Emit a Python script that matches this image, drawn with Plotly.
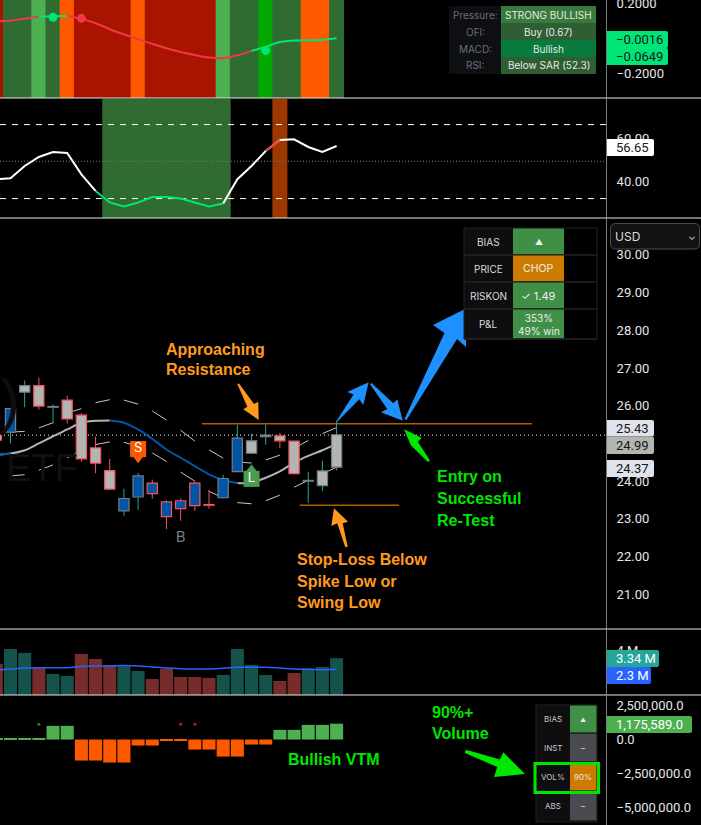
import plotly.graph_objects as go

W = 701
H = 825
PLOT_R = 606
X_LEFT = -0.74
X_RIGHT = 42.0

# bar index, -1 is the candle cut off by the left edge
bars = list(range(-1, 24))

# MACD pane
macd_line = [0.095, 0.099, 0.110, 0.122, 0.124, 0.126, 0.109, 0.084, 0.050, 0.021, -0.008, -0.034, -0.059,
             -0.080, -0.097, -0.112, -0.116, -0.099, -0.074, -0.050, -0.023, -0.015, -0.013, -0.011, -0.002]
macd_state = list("rrrrggrrrrrrrrrrrrrgggggg")
macd_dot_bars = [3, 5, 18]
macd_dot_vals = [0.118, 0.112, -0.072]
macd_dot_cols = ["#00e676", "#f23645", "#00e676"]
macd_bg = ["r", "d", "d", "l", "d", "o", "r", "r", "r", "r", "o", "r", "r", "r", "r", "r",
           "l", "d", "d", "b", "d", "d", "o", "o", "d"]
macd_bg_cols = {"r": "#a81400", "d": "#306b32", "l": "#4caf50", "o": "#ff5900", "b": "#00a800"}

# RSI pane
rsi_line = [41.07, 41.54, 47.3, 51.5, 53.85, 53.38, 43.4, 35.6, 30.2, 28.3, 30.2, 32.7, 32.8, 32.0, 30.2, 28.3,
            29.7, 41.07, 47.3, 54.3, 59.45, 59.77, 56.2, 53.85, 56.65]
rsi_state = list("wwwwwwwwgggggggggwwwrwwww")
rsi_green_bars = [7, 8, 9, 10, 11, 12, 13, 14, 15]
rsi_red_bars = [19]
rsi_upper = 66.7
rsi_mid = 49.5
rsi_lower = 32.0

# price pane
c_high = [25.24, 25.94, 26.67, 26.74, 26.03, 26.27, 25.81, 25.18, 24.59, 23.80, 24.22, 24.04, 23.49,
          23.54, 24.00, 23.77, 24.17, 25.50, 25.26, 25.50, 25.28, 25.06, 24.25, 24.54, 25.59]
c_top = [25.21, 25.92, 26.53, 26.53, 25.98, 26.15, 25.75, 24.88, 24.28, 23.54, 24.14, 23.95, 23.45,
         23.48, 23.95, 23.38, 24.07, 25.14, 25.07, 25.22, 25.20, 25.06, 24.02, 24.27, 25.23]
c_bottom = [25.09, 25.30, 26.36, 25.99, 25.96, 25.65, 24.59, 24.48, 23.79, 23.21, 23.58, 23.67, 23.06,
            23.27, 23.35, 23.36, 23.56, 24.25, 24.74, 25.18, 25.07, 24.20, 24.00, 23.88, 24.37]
c_low = [25.06, 25.00, 25.96, 25.90, 25.53, 25.53, 24.51, 24.21, 23.77, 23.08, 23.24, 23.53, 22.73,
         22.95, 23.21, 23.27, 23.54, 24.25, 24.74, 24.96, 24.88, 24.20, 23.42, 23.74, 24.29]
c_fill = list("gbgggggggbbbbbbbbbggggggg")
c_edge = list("rggrgrrrrggrrrrrggggrrggg")
fill_cols = {"g": "#b2b5b2", "b": "#0055a5"}
edge_cols = {"r": "#f7525f", "g": "#787b86"}
wick_cols = {"r": "#f7525f", "g": "#22ab94"}

ma_line = [24.70, 24.73, 24.82, 25.00, 25.19, 25.37, 25.55, 25.60, 25.61, 25.55, 25.37, 25.12, 24.84,
           24.62, 24.40, 24.18, 24.03, 23.95, 23.96, 24.09, 24.26, 24.49, 24.67, 24.82, 24.99]
ma_state = list("wbwwwwwwwbbbbbbbbbwwwwwww")
band_upper = [25.30, 25.32, 25.41, 25.55, 25.81, 25.92, 26.08, 26.16, 26.15, 26.04, 25.86, 25.62,
              25.35, 25.06, 24.83, 24.61, 24.51, 24.48, 24.56, 24.69, 24.87, 25.08, 25.26, 25.42]
band_lower = [24.14, 24.17, 24.29, 24.43, 24.62, 24.80, 24.97, 25.04, 25.03, 24.92, 24.75, 24.52,
              24.24, 24.00, 23.73, 23.56, 23.43, 23.40, 23.48, 23.63, 23.84, 24.02, 24.20, 24.37]
last_close_dotted = 25.22
resistance_bars = [13.5, 36.78]
resistance_price = 25.52
stop_bars = [20.4, 27.4]
stop_price = 23.36
tag_bars = [9, 17]
tag_prices = [24.85, 24.06]
tag_tip_prices = [24.62, 24.30]
tag_tip_symbols = ["triangle-down", "triangle-up"]
tag_texts = ["S", "L"]
tag_cols = ["#ff5900", "#4a9c4e"]
buy_bar = 12
buy_price = 22.49

# volume pane
volume = [2.82, 4.18, 3.82, 2.48, 1.91, 1.73, 3.73, 3.27, 2.73, 2.61, 2.18, 1.45, 2.36, 1.64, 1.64, 1.55,
          1.82, 4.18, 2.73, 1.82, 1.27, 2.00, 2.42, 2.55, 3.34]
volume_state = list("rttrttrrrttrrrrrttttrrttt")
volume_ma = [2.27, 2.36, 2.45, 2.48, 2.48, 2.48, 2.58, 2.64, 2.64, 2.67, 2.64, 2.55, 2.45, 2.39, 2.36, 2.36,
             2.42, 2.52, 2.52, 2.52, 2.45, 2.36, 2.33, 2.30, 2.33]

# VTM pane
vtm = [50000, 50000, 50000, 50000, 1010000, 1010000, -1553000, -1553000, -1700000, -1700000, -444000, -444000,
       -50000, -50000, -740000, -740000, -1257000, -1257000, -370000, -370000, 715000, 715000, 1085000, 1085000,
       1175589]
vtm_dot_bars = [2, 12, 13]
vtm_dot_vals = [1134000, 1134000, 1134000]
vtm_dot_cols = ["#2e7d32", "#b71c1c", "#b71c1c"]


def px(x):
    return x / W


def py(y):
    return 1 - y / H


def domain(top, bottom):
    return [py(bottom), py(top)]


def segment(values, state, key):
    # state[i] is the colour of the piece that ends on bar i
    out = []
    for i, v in enumerate(values):
        here = state[i] == key
        nxt = i + 1 < len(values) and state[i + 1] == key
        out.append(v if here or nxt else None)
    return out


def poly(points, color):
    path = "M " + " L ".join(f"{px(x):.5f},{py(y):.5f}" for x, y in points) + " Z"
    return dict(type="path", xref="paper", yref="paper", path=path, fillcolor=color, line=dict(width=0))


def rect(x0, y0, x1, y1, fill="rgba(0,0,0,0)", line=None, width=0):
    return dict(type="rect", xref="paper", yref="paper", x0=px(x0), x1=px(x1), y0=py(y0), y1=py(y1),
                fillcolor=fill, line=dict(color=line, width=width))


def round_rect(x0, y0, x1, y1, r, fill, line=None, width=0, left=True):
    # rounded box, the value tags keep a square left side
    rl = r if left else 0
    pts = [f"M {px(x0 + rl):.5f},{py(y0):.5f}", f"L {px(x1 - r):.5f},{py(y0):.5f}",
           f"Q {px(x1):.5f},{py(y0):.5f} {px(x1):.5f},{py(y0 + r):.5f}", f"L {px(x1):.5f},{py(y1 - r):.5f}",
           f"Q {px(x1):.5f},{py(y1):.5f} {px(x1 - r):.5f},{py(y1):.5f}", f"L {px(x0 + rl):.5f},{py(y1):.5f}",
           f"Q {px(x0):.5f},{py(y1):.5f} {px(x0):.5f},{py(y1 - rl):.5f}", f"L {px(x0):.5f},{py(y0 + rl):.5f}",
           f"Q {px(x0):.5f},{py(y0):.5f} {px(x0 + rl):.5f},{py(y0):.5f} Z"]
    return dict(type="path", xref="paper", yref="paper", path=" ".join(pts), fillcolor=fill,
                line=dict(color=line, width=width))


def label(x, y, text, color, size, anchor="center", bold=False, font="Inter"):
    # annotations keep a little padding on the left
    if anchor == "left":
        x -= 2
    return dict(xref="paper", yref="paper", x=px(x), y=py(y), text=f"<b>{text}</b>" if bold else text, showarrow=False,
                xanchor=anchor, yanchor="middle", align=anchor, font=dict(color=color, size=size, family=font))


fig = go.Figure()

# MACD background and line
fig.add_trace(go.Bar(x=bars, y=[0.56] * len(bars), base=-0.343, width=1.06,
                     marker=dict(color=[macd_bg_cols[k] for k in macd_bg], line=dict(width=0)), yaxis="y"))
fig.add_trace(go.Scatter(x=bars, y=segment(macd_line, macd_state, "r"), mode="lines",
                         line=dict(color="#f23645", width=2, shape="spline"), yaxis="y"))
fig.add_trace(go.Scatter(x=bars, y=segment(macd_line, macd_state, "g"), mode="lines",
                         line=dict(color="#00e676", width=2, shape="spline"), yaxis="y"))
fig.add_trace(go.Scatter(x=macd_dot_bars, y=macd_dot_vals, mode="markers",
                         marker=dict(color=macd_dot_cols, size=9), yaxis="y"))

# RSI
rsi_bg_bars = rsi_green_bars + rsi_red_bars
rsi_bg_cols = ["#306b32"] * len(rsi_green_bars) + ["#9c3700"] * len(rsi_red_bars)
fig.add_trace(go.Bar(x=rsi_bg_bars, y=[56] * len(rsi_bg_bars), base=22.9, width=1.06,
                     marker=dict(color=rsi_bg_cols, line=dict(width=0)), yaxis="y2"))
for level, dash, col in [(rsi_upper, "6px,6px", "#ffffff"), (rsi_lower, "6px,6px", "#ffffff"),
                         (rsi_mid, "1px,2px", "#787b86")]:
    fig.add_trace(go.Scatter(x=[X_LEFT, X_RIGHT], y=[level, level], mode="lines",
                             line=dict(color=col, width=1, dash=dash), yaxis="y2"))
for key, col in [("w", "#ffffff"), ("g", "#00e676"), ("r", "#f23645")]:
    fig.add_trace(go.Scatter(x=bars, y=segment(rsi_line, rsi_state, key), mode="lines",
                             line=dict(color=col, width=2), yaxis="y2"))

# price pane, bands and average go under the candles
for band in (band_upper, band_lower):
    xs = []
    ys = []
    for i in range(0, len(band), 2):
        xs += [i, i + 1, None]
        ys += [band[i], band[i + 1], None]
    fig.add_trace(go.Scatter(x=xs, y=ys, mode="lines", line=dict(color="#c4c6c8", width=1), yaxis="y3"))
fig.add_trace(go.Scatter(x=[X_LEFT, X_RIGHT], y=[last_close_dotted] * 2, mode="lines",
                         line=dict(color="#ffffff", width=1, dash="1px,3px"), yaxis="y3"))
fig.add_trace(go.Scatter(x=bars, y=segment(ma_line, ma_state, "w"), mode="lines",
                         line=dict(color="#b2b5b2", width=2, shape="spline"), yaxis="y3"))
fig.add_trace(go.Scatter(x=bars, y=segment(ma_line, ma_state, "b"), mode="lines",
                         line=dict(color="#0055a5", width=2, shape="spline"), yaxis="y3"))
fig.add_trace(go.Scatter(x=resistance_bars, y=[resistance_price] * 2, mode="lines",
                         line=dict(color="#b35c00", width=1.5), yaxis="y3"))
fig.add_trace(go.Scatter(x=stop_bars, y=[stop_price] * 2, mode="lines",
                         line=dict(color="#b35c00", width=1.5), yaxis="y3"))

# candles on an overlay axis so they sit on top of the average
for key in ("r", "g"):
    xs = []
    ys = []
    for i, b in enumerate(bars):
        if c_edge[i] == key:
            xs += [b, b, None, b, b, None]
            ys += [c_high[i], c_top[i], None, c_bottom[i], c_low[i], None]
    fig.add_trace(go.Scatter(x=xs, y=ys, mode="lines", line=dict(color=wick_cols[key], width=1), yaxis="y6"))
fig.add_trace(go.Bar(x=bars, y=[t - b for t, b in zip(c_top, c_bottom)], base=c_bottom, width=0.72,
                     marker=dict(color=[fill_cols[k] for k in c_fill],
                                 line=dict(color=[edge_cols[k] for k in c_edge], width=1.2)), yaxis="y6"))
fig.add_trace(go.Scatter(x=tag_bars, y=tag_tip_prices, mode="markers",
                         marker=dict(color=tag_cols, size=11, symbol=tag_tip_symbols), yaxis="y6"))
fig.add_trace(go.Scatter(x=tag_bars, y=tag_prices, mode="markers+text", text=tag_texts,
                         textposition="middle center", textfont=dict(color="#ffffff", size=13, family="Inter"),
                         marker=dict(color=tag_cols, size=16, symbol="square"), yaxis="y6"))
fig.add_trace(go.Scatter(x=[buy_bar], y=[buy_price], mode="text", text=["B"],
                         textfont=dict(color="#787b86", size=15, family="Inter"), yaxis="y6"))

# volume
vol_cols = {"r": "#762c2a", "t": "#14524c"}
fig.add_trace(go.Bar(x=bars, y=volume, width=0.92,
                     marker=dict(color=[vol_cols[k] for k in volume_state], line=dict(width=0)), yaxis="y4"))
fig.add_trace(go.Scatter(x=bars, y=volume_ma, mode="lines",
                         line=dict(color="#2962ff", width=1.5, shape="spline"), yaxis="y4"))

# VTM
fig.add_trace(go.Bar(x=bars, y=vtm, width=0.92,
                     marker=dict(color=["#4caf50" if v > 0 else "#ff5900" for v in vtm], line=dict(width=0)),
                     yaxis="y5"))
fig.add_trace(go.Scatter(x=vtm_dot_bars, y=vtm_dot_vals, mode="markers",
                         marker=dict(color=vtm_dot_cols, size=3), yaxis="y5"))

tick_font = dict(color="#e6e6e6", size=13, family="Roboto")
axis = dict(side="right", anchor="x", showgrid=False, zeroline=False, showline=True, linecolor="#787b86",
            linewidth=1, ticks="", ticklabelstandoff=7, tickfont=tick_font, ticklabeloverflow="allow",
            automargin=False)

fig.update_layout(
    width=W,
    height=H,
    margin=dict(l=0, r=0, t=0, b=0, autoexpand=False),
    paper_bgcolor="#000000",
    plot_bgcolor="#000000",
    showlegend=False,
    barmode="overlay",
    xaxis=dict(domain=[0, PLOT_R / W], range=[X_LEFT, X_RIGHT], visible=False),
    yaxis=dict(axis, domain=domain(0, 98), range=[-0.343, 0.217], tickvals=[0.2, -0.2], tickformat=".4f"),
    yaxis2=dict(axis, domain=domain(99, 218), range=[22.9, 78.7], tickvals=[40, 60], tickformat=".2f"),
    yaxis3=dict(axis, domain=domain(219, 629), range=[20.08, 30.95], tickvals=list(range(21, 31)), tickformat=".2f"),
    yaxis4=dict(axis, domain=domain(630, 695), range=[0, 5.9], tickvals=[4], ticktext=["4 M"]),
    yaxis5=dict(axis, domain=domain(696, 825), range=[-6320000, 3220000],
                tickvals=[2500000, 0, -2500000, -5000000], tickformat=",.1f"),
    yaxis6=dict(overlaying="y3", side="right", range=[20.08, 30.95], visible=False),
)

shapes = []
notes = []

# separators
for y in (98, 218, 629, 695):
    shapes.append(dict(type="line", xref="paper", yref="paper", x0=0, x1=1, y0=py(y), y1=py(y),
                       line=dict(color="#e8e8e8", width=1)))

# arrows
orange = "#ff9a1f"
blue = "#1e90ff"
green = "#00e600"
shapes.append(poly([(237.3, 384), (239, 383.5), (254, 404), (258.3, 401.7), (258.7, 420), (243.3, 409.3), (247.3, 406.7)], orange))
shapes.append(poly([(336, 421.7), (353.5, 394.5), (347.3, 392), (368.7, 382.3), (363.3, 405), (359.3, 399.3), (337, 422)], blue))
shapes.append(poly([(370, 384.3), (371.5, 383), (393.3, 403.3), (397.3, 399.3), (402.7, 420.7), (381, 412.3), (387.3, 409)], blue))
shapes.append(poly([(404.5, 419), (406.5, 420), (457, 339), (466, 347), (467, 308), (433, 325), (444.5, 333)], blue))
shapes.append(poly([(404, 429.3), (421.5, 437.7), (418, 442), (430, 460.5), (428, 462), (411, 445.5), (408.3, 439.3)], green))
shapes.append(poly([(334, 508.3), (348, 521.7), (342.7, 523.3), (347.7, 546.7), (345.3, 547.3), (337.3, 523.3), (331.3, 526)], orange))
shapes.append(poly([(465, 751), (467, 750), (500, 759.5), (503.3, 752.3), (525, 774), (494, 777), (497.3, 767), (465, 753)], green))

# USD selector
shapes.append(round_rect(610.5, 223.5, 699.5, 249, 5, "#121212", "#4a4a4a", 1))
notes.append(label(615, 236, "USD", "#dcdcdc", 12, "left"))
notes.append(label(692, 236, "⌄", "#dcdcdc", 10))

# faint watermark
notes.append(label(6, 468, "ETF", "#101010", 38, "left", font="Liberation Sans"))
notes.append(label(0, 400, ")", "#0e0e0e", 60, "left", font="Liberation Sans"))

# drawn-on captions, one line each
for lines, col in [
    ([(166, 349, "Approaching"), (166, 369, "Resistance")], orange),
    ([(297, 559, "Stop-Loss Below"), (297, 581, "Spike Low or"), (297, 602, "Swing Low")], orange),
    ([(437, 477, "Entry on"), (437, 498, "Successful"), (437, 520, "Re-Test")], green),
    ([(288, 759, "Bullish VTM")], green),
    ([(432, 712, "90%+"), (432, 733, "Volume")], green),
]:
    for x, y, text in lines:
        notes.append(label(x, y, text, col, 16, "left", bold=True, font="Liberation Sans"))

# last value tags on the price scale
value_tags = [
    (607, 668, 31, 48, "#00e676", "#131722", "−0.0016"),
    (607, 668, 48, 65, "#00e676", "#131722", "−0.0649"),
    (607, 654, 139, 156, "#ffffff", "#131722", "56.65"),
    (607, 654, 420, 436.5, "#e0e3eb", "#131722", "25.43"),
    (607, 654, 436.5, 454, "#b2b5b0", "#131722", "24.99"),
    (607, 654, 460, 477, "#e0e3eb", "#131722", "24.37"),
    (607, 659, 650, 667, "#26a69a", "#ffffff", "3.34 M"),
    (607, 651, 667, 684, "#2962ff", "#ffffff", "2.3 M"),
    (607, 692, 716, 733, "#4caf50", "#ffffff", "1,175,589.0"),
]
for x0, x1, y0, y1, fill, col, text in value_tags:
    shapes.append(round_rect(x0, y0, x1, y1, 2, fill, left=False))
    notes.append(label(x0 + 9, (y0 + y1) / 2, text, col, 13, "left", font="Roboto"))

# status tables
shapes.append(rect(449, 6, 501, 74, "#0e0f12"))
pressure_rows = [
    (6, 23, "Pressure:", "STRONG BULLISH", "#387a3b"),
    (23, 40, "OFI:", "Buy (0.67)", "#2e5e31"),
    (40, 57, "MACD:", "Bullish", "#087a3e"),
    (57, 74, "RSI:", "Below SAR (52.3)", "#2e5e31"),
]
for y0, y1, name, val, fill in pressure_rows:
    shapes.append(rect(501, y0, 596, y1, fill))
    notes.append(label(475, (y0 + y1) / 2, name, "#6b6e76", 10))
    notes.append(label(548.5, (y0 + y1) / 2, val, "#e8e8e8", 10))

shapes.append(rect(464, 228, 513, 339, "#0e0e10"))
shapes.append(rect(464, 228, 597, 339, line="#222222", width=1))
bias_rows = [
    (228, 255, "BIAS", "▲", 8, "#3f8f46"),
    (255, 282, "PRICE", "CHOP", 10.5, "#cc7a00"),
    (282, 309, "RISKON", "✓ 1.49", 11, "#3f8f46"),
    (309, 339, "P&amp;L", "353%<br>49% win", 10, "#3f8f46"),
]
for y0, y1, name, val, size, fill in bias_rows:
    shapes.append(rect(513, y0 + 0.5, 564, y1 - 0.5, fill))
    shapes.append(rect(464, y1, 597, y1, line="#222222", width=1))
    notes.append(label(488.5, (y0 + y1) / 2, name, "#dcdcdc", 10))
    notes.append(label(538.5, (y0 + y1) / 2, val, "#eeeeee", size))

shapes.append(rect(536, 705, 570, 822, "#0e0e10"))
shapes.append(rect(536, 705, 597, 822, line="#222222", width=1))
flow_rows = [
    (705, 733, "BIAS", "▲", 6, "#3f8f46"),
    (733, 762, "INST", "–", 8, "#4a4b50"),
    (762, 791, "VOL%", "90%", 8, "#cc7a00"),
    (791, 821, "ABS", "–", 8, "#4a4b50"),
]
for y0, y1, name, val, size, fill in flow_rows:
    shapes.append(rect(570, y0 + 0.5, 596.5, y1 - 0.5, fill))
    notes.append(label(553, (y0 + y1) / 2, name, "#c8c8c8", 8))
    notes.append(label(583, (y0 + y1) / 2, val, "#e8e8e8", size))
shapes.append(rect(535, 763.5, 598.5, 792.5, line=green, width=3))

fig.update_layout(shapes=shapes, annotations=notes)

fig.write_html("out.html", config=dict(displayModeBar=False),
               post_script="document.body.style.margin='0';document.body.style.overflow='hidden';")
